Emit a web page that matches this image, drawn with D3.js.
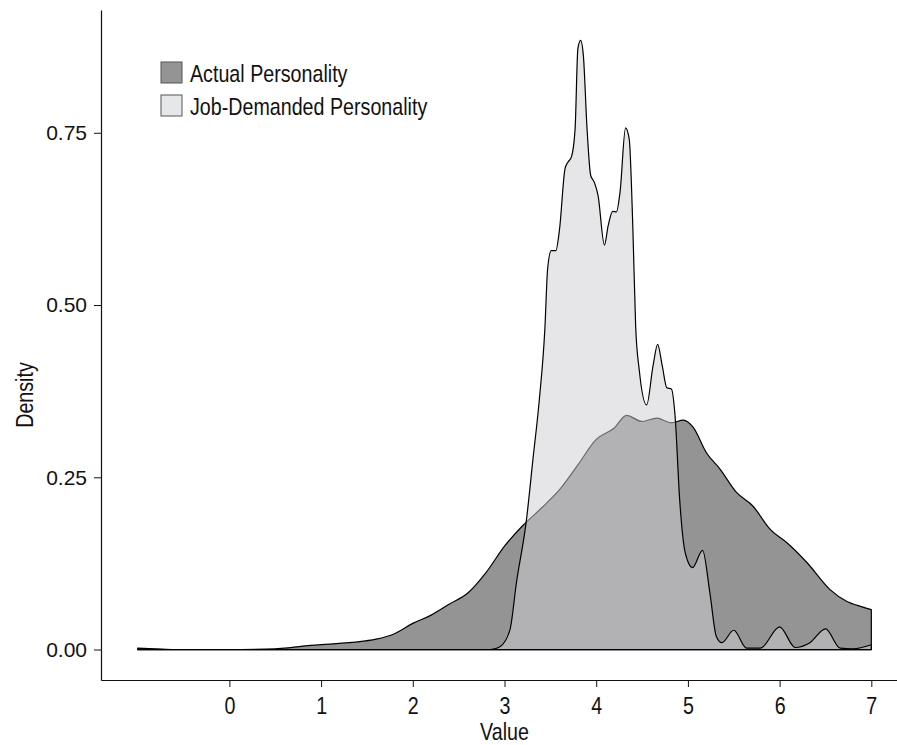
<!DOCTYPE html>
<html>
<head>
<meta charset="utf-8">
<script src="https://cdn.jsdelivr.net/npm/d3@7"></script>
<style>
  body { margin: 0; background: #fff; }
  text { font-family: "Liberation Sans", Arial, sans-serif; fill: #111; }
  .y-axis text { font-size: 21px; }
  .x-axis text { font-size: 24px; }
  .domain, .tick line { stroke: #111; }
</style>
</head>
<body>
<svg id="chart"></svg>
<script>
// density curves
const actualX = [-1.0, -0.8, -0.6, 0.0, 0.4, 0.6, 0.8, 1.0, 1.2, 1.4, 1.6, 1.8, 2.0, 2.2, 2.4, 2.6, 2.8, 3.0, 3.2, 3.4, 3.6, 3.8, 4.0, 4.2, 4.33, 4.5, 4.66, 4.82, 4.95, 5.06, 5.2, 5.35, 5.53, 5.71, 5.9, 6.08, 6.3, 6.55, 6.73, 6.9, 7.0];
const actualY = [0.002, 0.001, 0.0, 0.0, 0.0005, 0.002, 0.005, 0.007, 0.009, 0.011, 0.015, 0.023, 0.038, 0.050, 0.066, 0.082, 0.112, 0.150, 0.180, 0.205, 0.232, 0.268, 0.305, 0.322, 0.340, 0.331, 0.336, 0.329, 0.333, 0.322, 0.286, 0.262, 0.228, 0.208, 0.174, 0.155, 0.126, 0.087, 0.070, 0.062, 0.058];

const jobX = [-1.0, 2.85, 2.95, 3.06, 3.13, 3.24, 3.31, 3.38, 3.44, 3.47, 3.51, 3.56, 3.60, 3.66, 3.69, 3.73, 3.77, 3.80, 3.83, 3.86, 3.90, 3.94, 3.98, 4.02, 4.09, 4.13, 4.18, 4.22, 4.26, 4.32, 4.36, 4.40, 4.43, 4.47, 4.55, 4.62, 4.67, 4.72, 4.77, 4.82, 4.86, 4.91, 4.97, 5.05, 5.16, 5.24, 5.31, 5.37, 5.50, 5.64, 5.79, 6.00, 6.17, 6.33, 6.50, 6.66, 6.80, 7.0];
const jobY = [0.0, 0.0, 0.004, 0.029, 0.097, 0.189, 0.276, 0.363, 0.465, 0.552, 0.579, 0.579, 0.610, 0.698, 0.707, 0.715, 0.756, 0.872, 0.884, 0.862, 0.756, 0.688, 0.678, 0.659, 0.587, 0.615, 0.636, 0.635, 0.664, 0.757, 0.741, 0.610, 0.470, 0.405, 0.355, 0.412, 0.443, 0.412, 0.380, 0.378, 0.339, 0.218, 0.141, 0.119, 0.144, 0.082, 0.019, 0.010, 0.028, 0.002, 0.002, 0.033, 0.003, 0.010, 0.030, 0.002, 0.001, 0.007];

const xTicks = [0, 1, 2, 3, 4, 5, 6, 7];
const yTicks = [0, 0.25, 0.5, 0.75];
const seriesNames = ["Actual Personality", "Job-Demanded Personality"];

const W = 897, H = 745;
const narrow = "scale(0.82,1)"; // no condensed font installed, squeeze instead
const svg = d3.select("#chart").attr("width", W).attr("height", H);

// ggplot-like 5% expansion
const x = d3.scaleLinear().domain([-1.4, 7.4]).range([101, 908]);
const y = d3.scaleLinear().domain([-0.0442, 0.884 * 1.05]).range([680, 10]);

const area = d3.area()
    .x(d => x(d[0]))
    .y0(y(0))
    .y1(d => y(d[1]))
    .curve(d3.curveMonotoneX);

const actual = actualX.map((v, i) => [v, actualY[i]]);
const job = jobX.map((v, i) => [v, jobY[i]]);

svg.append("path")
    .datum(actual)
    .attr("d", area)
    .attr("fill", "#949494")
    .attr("stroke", "#000")
    .attr("stroke-width", 1.2)
    .attr("stroke-linejoin", "round");

svg.append("path")
    .datum(job)
    .attr("d", area)
    .attr("fill", "rgb(206,207,210)")
    .attr("fill-opacity", 0.514)
    .attr("stroke", "#000")
    .attr("stroke-width", 1.2)
    .attr("stroke-linejoin", "round");

// axes
svg.append("g")
    .attr("class", "x-axis")
    .attr("transform", "translate(0,680)")
    .call(d3.axisBottom(x).tickValues(xTicks).tickFormat(d3.format("d")).tickSize(7).tickSizeOuter(0).tickPadding(10))
    .call(g => g.select(".domain").attr("stroke-width", 1.2))
    .call(g => g.selectAll(".tick text").attr("transform", narrow));

svg.append("g")
    .attr("class", "y-axis")
    .attr("transform", "translate(101,0)")
    .call(d3.axisLeft(y).tickValues(yTicks).tickFormat(d3.format(".2f")).tickSize(7).tickSizeOuter(0).tickPadding(7))
    .call(g => g.select(".domain").attr("stroke-width", 1.2));

svg.selectAll(".x-axis text, .y-axis text").attr("font-family", null).attr("font-size", null);

svg.append("text")
    .attr("transform", `translate(504.5,740) ${narrow}`)
    .attr("text-anchor", "middle")
    .attr("font-size", 24)
    .text("Value");

svg.append("text")
    .attr("transform", `translate(33,395) rotate(-90) ${narrow}`)
    .attr("text-anchor", "middle")
    .attr("font-size", 24)
    .text("Density");

// legend
const keyFill = ["#949494", "#e6e7e8"];
const legend = svg.append("g").attr("transform", "translate(161,62)");
legend.selectAll("rect")
    .data(seriesNames)
    .join("rect")
    .attr("x", 0)
    .attr("y", (d, i) => i * 33)
    .attr("width", 21)
    .attr("height", 21)
    .attr("fill", (d, i) => keyFill[i])
    .attr("stroke", "#555")
    .attr("stroke-width", 1);
legend.selectAll("text")
    .data(seriesNames)
    .join("text")
    .attr("transform", (d, i) => `translate(29,${20 + i * 33}) ${narrow}`)
    .attr("font-size", 24)
    .text(d => d);
</script>
</body>
</html>
